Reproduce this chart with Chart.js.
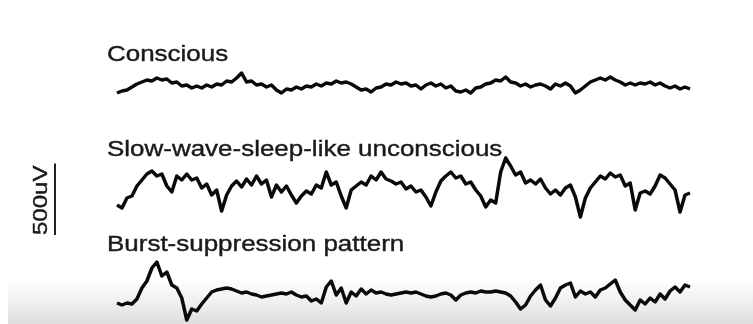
<!DOCTYPE html>
<html>
<head>
<meta charset="utf-8">
<script src="https://cdn.jsdelivr.net/npm/chart.js@4"></script>
<style>
    html, body { margin: 0; padding: 0; background: #fff; }
    #wrap { width: 753px; height: 324px; }
</style>
</head>
<body>
<div id="wrap"><canvas id="eeg" width="753" height="324"></canvas></div>
<script>
// trace amplitudes in uV, relative to each trace's own baseline
const conscious = [-49,-35,-28,-7,14,28,42,35,56,42,49,21,28,0,7,-14,0,-14,7,-7,14,7,35,28,56,91,28,35,7,14,-7,7,-28,-49,-21,-28,-7,-21,0,-7,14,0,21,14,35,21,28,14,-7,-28,-21,-42,-14,-7,14,7,28,14,21,0,7,-21,7,21,0,14,-14,0,-35,-42,-28,-49,-14,-7,14,21,42,35,63,28,21,0,14,-7,7,14,0,-21,14,0,21,0,-49,-28,0,28,42,56,42,63,42,28,7,21,7,21,14,28,7,21,0,-14,0,-21,-7,-21];
const slowWave = [-105,-126,-56,-42,28,70,112,133,98,112,28,-14,98,70,112,70,84,14,42,-35,0,-147,-35,28,63,21,77,35,98,42,70,-49,35,-14,28,-35,-91,-42,-7,-28,35,14,126,35,56,-42,-126,0,28,56,35,98,70,126,77,63,42,56,7,28,-14,0,-49,-112,-14,63,98,126,84,98,42,56,0,-42,-119,-70,-91,126,224,168,105,126,49,70,42,77,14,-28,0,-35,14,35,-49,-189,-56,14,56,98,77,119,91,105,28,49,-140,-21,-7,-28,28,105,84,42,0,-154,-35,-21];
const burst = [-70,-84,-70,-77,-42,35,84,175,217,119,147,56,35,-35,-189,-112,-126,-77,-35,7,21,28,35,28,14,0,7,-7,-14,-28,-21,-14,-7,0,-7,7,-14,-28,-21,-56,-42,-70,42,84,-14,35,-70,7,-21,28,-7,21,0,7,-7,-14,-7,0,7,0,7,-7,-21,-28,-21,-7,0,-14,-49,-14,0,7,0,14,7,7,14,7,0,-21,-63,-112,-84,-21,21,56,-49,-91,-35,35,56,70,-28,14,-7,7,-28,21,35,63,91,7,-49,-84,-119,-49,-77,-35,-63,-7,-42,14,42,7,56,42];

const traceNames = ["Conscious", "Slow-wave-sleep-like unconscious", "Burst-suppression pattern"];
const traceOffsets = [-602, -1330, -2051];
const scaleBarUv = [-1645, -1145];
const scaleBarLabel = "500uV";

// layout (pixels)
const W = 753, H = 324;
const traceLeft = 117, traceRight = 690, scaleBarX = 55;
const uvPerPx = 7;
const nSamples = conscious.length;
const pxPerSample = (traceRight - traceLeft) / (nSamples - 1);
const xMin = -traceLeft / pxPerSample;
const xMax = (nSamples - 1) + (W - traceRight) / pxPerSample;
const labelBaselines = [61, 156, 251];

const fontFamily = "'Liberation Sans', Arial, Helvetica, sans-serif";

function makeTrace(values, offset) {
    return {
        data: values.map((v, i) => ({ x: i, y: v + offset })),
        borderColor: "#0a0a0a",
        borderWidth: 3.5,
        pointRadius: 0,
        tension: 0,
        borderJoinStyle: "round",
    };
}

const background = {
    id: "background",
    beforeDraw(chart) {
        const ctx = chart.ctx;
        ctx.save();
        ctx.fillStyle = "#fff";
        ctx.fillRect(0, 0, W, H);
        const g = ctx.createLinearGradient(0, 278, 0, H);
        g.addColorStop(0, "rgba(228,228,228,0)");
        g.addColorStop(1, "rgba(222,222,222,1)");
        ctx.fillStyle = g;
        ctx.fillRect(8, 278, W - 8, H - 278);
        ctx.restore();
    },
};

const labels = {
    id: "labels",
    beforeDatasetsDraw(chart) {
        const ctx = chart.ctx;
        ctx.save();
        ctx.fillStyle = "#1a1a1a";
        ctx.strokeStyle = "#1a1a1a";
        ctx.lineWidth = 0.4;
        ctx.font = "22px " + fontFamily;
        ctx.textBaseline = "alphabetic";
        traceNames.forEach((name, i) => {
            ctx.save();
            ctx.translate(107, labelBaselines[i]);
            ctx.scale(1.18, 1);
            ctx.fillText(name, 0, 0);
            ctx.strokeText(name, 0, 0);
            ctx.restore();
        });
        // scale bar label, read bottom to top
        const yScale = chart.scales.y;
        const bottom = yScale.getPixelForValue(scaleBarUv[0]);
        ctx.font = "20px " + fontFamily;
        ctx.translate(47, bottom);
        ctx.rotate(-Math.PI / 2);
        ctx.scale(1.2, 1);
        ctx.fillText(scaleBarLabel, 0, 0);
        ctx.strokeText(scaleBarLabel, 0, 0);
        ctx.restore();
    },
};

new Chart(document.getElementById("eeg"), {
    type: "line",
    data: {
        datasets: [
            makeTrace(conscious, traceOffsets[0]),
            makeTrace(slowWave, traceOffsets[1]),
            makeTrace(burst, traceOffsets[2]),
            {
                data: scaleBarUv.map(v => ({ x: (scaleBarX - traceLeft) / pxPerSample, y: v })),
                borderColor: "#222",
                borderWidth: 2,
                pointRadius: 0,
            },
        ],
    },
    options: {
        responsive: false,
        animation: false,
        layout: { padding: 0 },
        scales: {
            x: { type: "linear", display: false, min: xMin, max: xMax },
            y: { type: "linear", display: false, min: -H * uvPerPx, max: 0 },
        },
        plugins: {
            legend: { display: false },
            tooltip: { enabled: false },
        },
    },
    plugins: [background, labels],
});
</script>
</body>
</html>
